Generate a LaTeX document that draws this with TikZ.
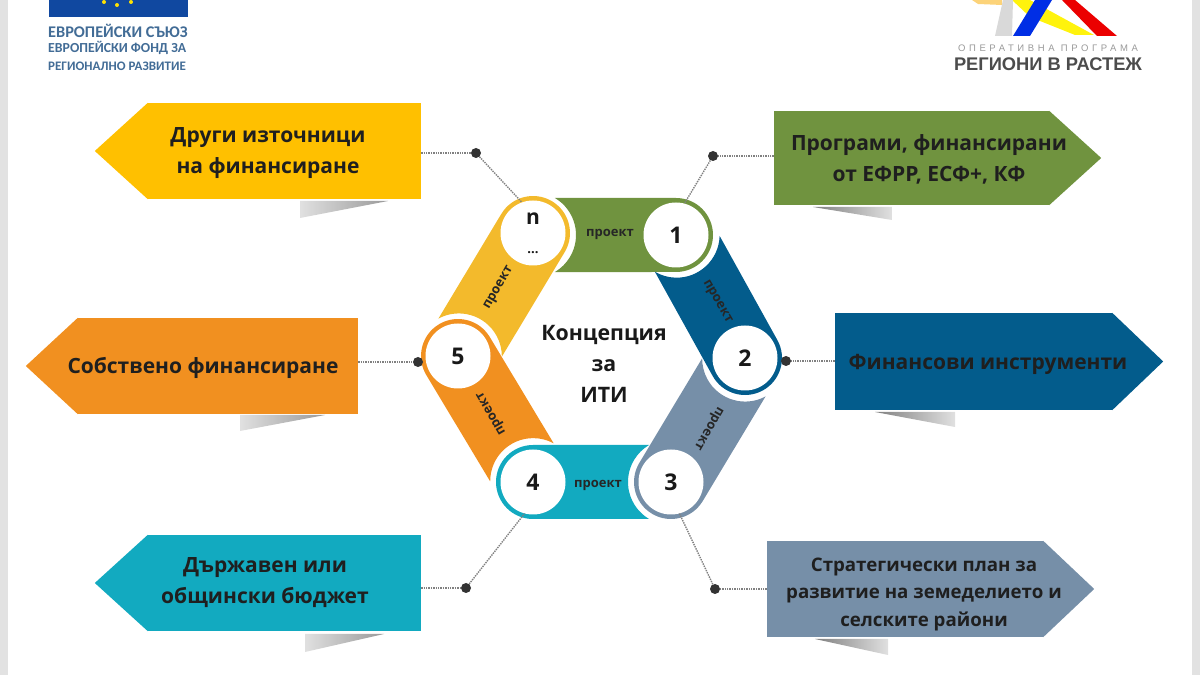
\documentclass[tikz,border=0pt]{standalone}
\usepackage{fontspec}
\usepackage{xcolor}
\setmainfont{Open Sans}
\newfontfamily\carlitofont{Carlito}
\newfontfamily\logofont{Liberation Sans}
\newfontfamily\spacedfont[LetterSpace=38]{Liberation Sans}
\usetikzlibrary{calc}
\definecolor{cyellow}{RGB}{255,192,0}
\definecolor{cband}{RGB}{243,186,44}
\definecolor{cgreen}{RGB}{112,147,63}
\definecolor{cblue}{RGB}{3,92,140}
\definecolor{corange}{RGB}{241,144,32}
\definecolor{cteal}{RGB}{18,170,192}
\definecolor{cslate}{RGB}{118,143,168}
\definecolor{ceu}{RGB}{16,72,160}
\definecolor{ceutext}{RGB}{66,108,150}
\definecolor{cside}{RGB}{226,226,226}
\tikzset{
    bodybox/.style={inner sep=0pt,minimum height=#1},
    boxtext/.style={align=center,inner sep=0pt,font=\bfseries\fontsize{21}{31}\selectfont,text=black!88},
    bandtext/.style={inner sep=0pt,font=\bfseries\fontsize{13}{15}\selectfont,text=black!85},
    numcircle/.style={circle,fill=white,inner sep=0pt,minimum size=65pt,align=center,font=\bfseries\fontsize{23}{23}\selectfont,text=black!90},
    leaderdot/.style={circle,fill=black!80,inner sep=0pt,minimum size=10pt},
    leaderline/.style={black!50,densely dotted,line width=1.4pt},
    eutext/.style={anchor=west,inner sep=0pt,text=ceutext}
}
\begin{document}
\begin{tikzpicture}[x=1pt,y=1pt]
    \useasboundingbox (0,0) rectangle (1200,675);
    \fill[cside] (0,0) rectangle (8,675);
    \fill[cside] (1192,0) rectangle (1200,675);

    % logos
    \fill[ceu] (49,658) rectangle (188,675);
    \foreach \x/\y in {104/673,117/670,131/673}{
      \fill[yellow!85!orange] (\x,\y) circle (2);
    }
    \node[eutext,font=\carlitofont\bfseries\fontsize{16.3}{17}\selectfont] (eu1) at (48,644) {ЕВРОПЕЙСКИ СЪЮЗ};
    \node[eutext,font=\carlitofont\bfseries\fontsize{13.8}{15}\selectfont] (eu2) at (48,627) {ЕВРОПЕЙСКИ ФОНД ЗА};
    \node[eutext,font=\carlitofont\bfseries\fontsize{13}{15}\selectfont] (eu3) at (48,609) {РЕГИОНАЛНО РАЗВИТИЕ};
    \fill[yellow!35!orange!50!white] (972,675)--(1002,675)--(1002,670)--(978,671)--cycle;
    \fill[yellow!95!white] (1012,675)--(1030,675)--(1094,640)--(1075,640)--(1030,658)--cycle;
    \fill[black!15] (995,639)--(1012,639)--(1013,675)--(1003,675)--cycle;
    \fill[blue!80!cyan!90!black] (1013,639)--(1030,639)--(1052,675)--(1035,675)--cycle;
    \fill[red!92!black] (1062,675)--(1075,675)--(1117,639)--(1097,639)--cycle;
    \node[inner sep=0pt,text=black!40,font=\spacedfont\fontsize{9.5}{10}\selectfont] (op1) at (1048,627) {ОПЕРАТИВНА ПРОГРАМА};
    \node[inner sep=0pt,text=black!70,font=\logofont\bfseries\fontsize{18.3}{20}\selectfont] (op2) at (1048,611) {РЕГИОНИ В РАСТЕЖ};

    % shadows under the boxes
    \foreach \xa/\xb/\xc/\ya/\yb/\lft/\rgt in {
      300/388/300/474/457/black!12/black!40,
      305/384/305/41/23/black!12/black!40,
      240/325/240/260/244/black!12/black!40,
      813/892/892/468/455/black!50/black!12,
      875/955/955/263/248/black!50/black!12,
      815/888/888/36/20/black!50/black!12}{
      \shade[left color=\lft,right color=\rgt] (\xa,\ya)--(\xb,\ya)--(\xc,\yb)--cycle;
    }

    % boxes with their points
    \foreach \nm/\x/\y/\bw/\bh/\side/\dx/\col in {
      yellowbox/284.5/524/273/96/west/-53/cyellow,
      greenbox/911.5/517/275/94/east/52/cgreen,
      bluebox/973.5/313.5/277/97/east/51/cblue,
      orangebox/218/309/280/96/west/-52/corange,
      tealbox/284.5/92/273/96/west/-53/cteal,
      slatebox/905/86/276/96/east/51/cslate}{
      \node[bodybox=\bh,minimum width=\bw,fill=\col] (\nm) at (\x,\y) {};
      \fill[\col] (\nm.north \side)--($(\nm.\side)+(\dx,0)$)--(\nm.south \side)--cycle;
    }
    \node[boxtext] (yellowtext) at (268,522) {Други източници\\на финансиране};
    \node[boxtext] (greentext) at (929,516) {Програми, финансирани\\от ЕФРР, ЕСФ+, КФ};
    \node[boxtext] (bluetext) at (988,311) {Финансови инструменти};
    \node[boxtext] (orangetext) at (203,307) {Собствено финансиране};
    \node[boxtext] (tealtext) at (265,92) {Държавен или\\общински бюджет};
    \node[boxtext,font=\bfseries\fontsize{18.7}{27.5}\selectfont] (slatetext) at (924,81) {Стратегически план за\\развитие на земеделието и\\селските райони};

    % hexagon bands
    \foreach \nm/\x/\y/\ang/\len/\col/\px/\py/\tang in {
      1/676/440/180/143/cgreen/610/441/0,
      2/745/317/119/141/cblue/717/373/-60,
      3/671/193/59/144/cslate/708/247/-120,
      4/533/193/0/138/cteal/598/190/0,
      5/458/319/-59/146/corange/492/262/120,
      n/533/442/-121/144/cband/499/387/60}{
      \begin{scope}[shift={(\x,\y)},rotate=\ang]
        \fill[\col] (0,37) arc[start angle=90,end angle=270,radius=37]
          -- (\len-21.9,-37) arc[start angle=239.4,end angle=120.6,radius=43] -- cycle;
      \end{scope}
      \node[bandtext,rotate=\tang] (p\nm) at (\px,\py) {проект};
    }

    \node[numcircle] (c1) at (676,440) {1};
    \node[numcircle] (c2) at (745,317) {2};
    \node[numcircle] (c3) at (671,193) {3};
    \node[numcircle] (c4) at (533,193) {4};
    \node[numcircle] (c5) at (458,319) {5};
    \node[numcircle,font=\bfseries\fontsize{21}{21}\selectfont] (cn) at (533,442)
      {n\\[8pt]{\fontsize{13}{13}\selectfont ...}};

    % leaders
    \node[leaderdot] (dy) at (476,522) {};
    \node[leaderdot] (dg) at (713,519) {};
    \node[leaderdot] (db) at (786,314) {};
    \node[leaderdot] (do) at (418,313) {};
    \node[leaderdot] (dt) at (466,87) {};
    \node[leaderdot] (ds) at (715,86) {};
    \draw[leaderline] (yellowbox.east |- dy) -- (dy);
    \draw[leaderline] (dy) -- (cn.110);
    \draw[leaderline] (greenbox.west |- dg) -- (dg);
    \draw[leaderline] (dg) -- (c1.75);
    \draw[leaderline] (bluebox.west |- db) -- (db);
    \draw[leaderline] (orangebox.east |- do) -- (do);
    \draw[leaderline] (tealbox.east |- dt) -- (dt);
    \draw[leaderline] (dt) -- (c4.255);
    \draw[leaderline] (slatebox.west |- ds) -- (ds);
    \draw[leaderline] (ds) -- (c3.285);

    \node[align=center,inner sep=0pt,font=\bfseries\fontsize{21.3}{31}\selectfont,text=black!90] (title) at (604,311)
      {Концепция\\за\\ИТИ};
\end{tikzpicture}
\end{document}
